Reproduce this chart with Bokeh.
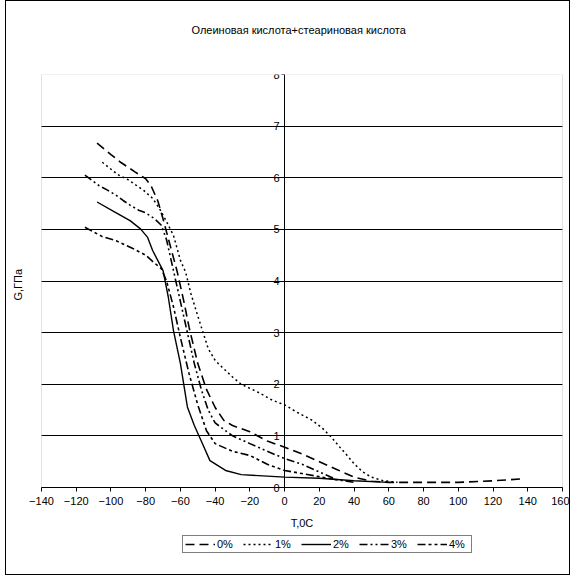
from bokeh.plotting import figure
from bokeh.models import Legend, LegendItem, FixedTicker, Title, LinearAxis, Range1d, BoxAnnotation
from bokeh.embed import file_html
from bokeh.resources import INLINE

FONT = "Liberation Sans"

title_text = "Олеиновая кислота+стеариновая кислота"
x_label = "T,0C"
y_label = "G,ГПа"
x_ticks = list(range(-140, 161, 20))
y_ticks = list(range(0, 9))
series_names = ["0%", "1%", "2%", "3%", "4%"]
X_MIN, X_MAX = -140, 160
Y_MIN, Y_MAX = 0, 8

T0 = [-108, -100, -94, -86, -80, -77, -73, -70, -66, -62, -58, -55, -50, -45, -40, -35, -30, -20, -10, 0, 10, 20, 30, 40, 50, 60, 80, 100, 120, 138]
G0 = [6.67, 6.45, 6.29, 6.11, 5.98, 5.85, 5.55, 5.2, 4.7, 4.2, 3.6, 3.1, 2.4, 1.9, 1.55, 1.3, 1.2, 1.08, 0.9, 0.78, 0.65, 0.5, 0.35, 0.2, 0.12, 0.1, 0.1, 0.1, 0.13, 0.17]

T1 = [-105, -96, -90, -81, -76, -72, -68, -64, -60, -57, -54, -51, -48, -44, -40, -36, -30, -25, -20, -15, -7, 0, 7, 16, 22, 27, 31, 36, 40, 45, 50, 57, 65]
G1 = [6.3, 6.06, 5.96, 5.75, 5.6, 5.4, 5.15, 4.88, 4.4, 4.17, 3.76, 3.43, 3.11, 2.69, 2.46, 2.33, 2.14, 2.0, 1.92, 1.84, 1.69, 1.6, 1.46, 1.3, 1.14, 0.97, 0.81, 0.62, 0.46, 0.3, 0.2, 0.13, 0.1]

T2 = [-108, -98, -89, -83, -79, -76, -70, -67, -64, -60, -56, -52, -48, -43, -34, -25, -10, 0, 20, 40, 60]
G2 = [5.53, 5.34, 5.17, 5.01, 4.85, 4.59, 4.2, 3.69, 3.04, 2.4, 1.56, 1.2, 0.9, 0.52, 0.33, 0.25, 0.22, 0.2, 0.18, 0.13, 0.1]

T3 = [-115, -107, -102, -97, -93, -89, -84, -80, -75, -71, -68, -64, -60, -56, -52, -48, -44, -40, -30, -20, -10, 0, 10, 20, 30, 40]
G3 = [6.05, 5.85, 5.76, 5.66, 5.56, 5.47, 5.37, 5.32, 5.21, 5.08, 4.8, 4.2, 3.6, 3.0, 2.4, 1.9, 1.5, 1.25, 1.0, 0.85, 0.7, 0.56, 0.45, 0.3, 0.15, 0.1]

T4 = [-115, -105, -97, -88, -80, -75, -71, -68, -64, -60, -55, -50, -45, -40, -30, -20, -10, 0, 10, 20, 30]
G4 = [5.04, 4.86, 4.78, 4.64, 4.5, 4.35, 4.24, 4.0, 3.5, 2.9, 2.2, 1.6, 1.1, 0.85, 0.7, 0.62, 0.45, 0.33, 0.27, 0.21, 0.15]

# Plot area: 521 x 413 px for -140..160 / 0..8. The frame is padded on the left, right
# and bottom so that end tick labels, the x title and the legend are not clipped.
PLOT_W, PLOT_H = 521, 413
PAD_L, PAD_R, PAD_B = 18, 7, 71
ux = (X_MAX - X_MIN) / PLOT_W
uy = (Y_MAX - Y_MIN) / PLOT_H

p = figure(frame_width=PLOT_W + PAD_L + PAD_R, frame_height=PLOT_H + PAD_B, title=None,
           x_range=Range1d(X_MIN - PAD_L * ux, X_MAX + PAD_R * ux),
           y_range=Range1d(Y_MIN - PAD_B * uy, Y_MAX),
           output_backend="svg", toolbar_location=None,
           x_axis_location=None, y_axis_location=None,
           min_border_left=17, min_border_right=0, min_border_top=73, min_border_bottom=16)

p.background_fill_color = "white"
p.border_fill_color = "white"
p.outline_line_color = None
p.styles = {"border": "1px solid black", "margin-left": "5px"}

# plot-area border (grey)
p.add_layout(BoxAnnotation(left=X_MIN, right=X_MAX, bottom=Y_MIN, top=Y_MAX,
                           fill_alpha=0, line_color="#a0a0a0", line_width=1, level="underlay"))

# title (spacer nearest the frame, then the real title)
p.add_layout(Title(text=" ", text_font_size="33px", standoff=0), "above")
main_title = Title(text=title_text, align="left", offset=168, text_font=FONT,
                   text_font_size="11px", text_font_style="normal", text_color="black", standoff=0)
p.add_layout(main_title, "above")

# x axis at y=0
xaxis = LinearAxis(ticker=FixedTicker(ticks=x_ticks), axis_label=x_label,
                   fixed_location=Y_MIN, bounds=(X_MIN, X_MAX))
xaxis.axis_line_color = "black"
xaxis.major_tick_line_color = "black"
xaxis.major_tick_out = 4
xaxis.major_tick_in = 0
xaxis.minor_tick_line_color = None
xaxis.major_label_standoff = 5
xaxis.major_label_text_font = FONT
xaxis.major_label_text_font_size = "11px"
xaxis.major_label_text_color = "black"
xaxis.axis_label_text_font = FONT
xaxis.axis_label_text_font_size = "11px"
xaxis.axis_label_text_font_style = "normal"
xaxis.axis_label_text_color = "black"
xaxis.axis_label_standoff = 9
p.add_layout(xaxis, "below")

# y axis crossing at x=0
yaxis = LinearAxis(ticker=FixedTicker(ticks=y_ticks), fixed_location=0, bounds=(Y_MIN, Y_MAX))
yaxis.axis_line_color = "black"
yaxis.major_tick_line_color = "black"
yaxis.major_tick_out = 3
yaxis.major_tick_in = 0
yaxis.minor_tick_line_color = None
yaxis.major_label_standoff = 2
yaxis.major_label_text_font = FONT
yaxis.major_label_text_font_size = "11px"
yaxis.major_label_text_color = "black"
p.add_layout(yaxis, "left")

ytitle = Title(text=y_label, align="left", text_font=FONT, text_font_size="11px",
               text_font_style="normal", text_color="black", standoff=0, offset=258)
p.add_layout(ytitle, "left")

p.xgrid.grid_line_color = None
grid_vals = y_ticks[1:-1]
p.ygrid.ticker = FixedTicker(ticks=grid_vals)
p.ygrid.grid_line_color = "black"
p.ygrid.grid_line_width = 1
try:
    p.ygrid.cross_bounds = (X_MIN, X_MAX)
except Exception:
    p.ygrid.grid_line_color = None
    p.segment(x0=[X_MIN] * len(grid_vals), x1=[X_MAX] * len(grid_vals),
              y0=grid_vals, y1=grid_vals, line_color="black", line_width=1, level="underlay")

styles = [
    dict(line_dash="9 5", line_width=1.6),
    dict(line_dash="2 3", line_width=1.5),
    dict(line_dash="solid", line_width=1.4),
    dict(line_dash="8 3 2 3 2 3", line_width=1.6),
    dict(line_dash="8 3 3 3 3 3", line_width=1.6),
]
data = [(T0, G0), (T1, G1), (T2, G2), (T3, G3), (T4, G4)]
renderers = []
for (t, g), st in zip(data, styles):
    r = p.line(t, g, line_color="black", **st)
    renderers.append(r)

legend = Legend(items=[LegendItem(label=n, renderers=[r]) for n, r in zip(series_names, renderers)],
                orientation="horizontal", location=(159, 5))
legend.border_line_color = "black"
legend.border_line_width = 1
legend.background_fill_color = "white"
legend.background_fill_alpha = 1
legend.label_text_font = FONT
legend.label_text_font_size = "11px"
legend.label_text_color = "black"
legend.glyph_width = 30
legend.glyph_height = 10
legend.label_standoff = 2
legend.spacing = 6
legend.padding = 2
legend.margin = 0
legend.label_height = 10
p.add_layout(legend, "center")

open("out.html", "w").write(file_html(p, INLINE))
